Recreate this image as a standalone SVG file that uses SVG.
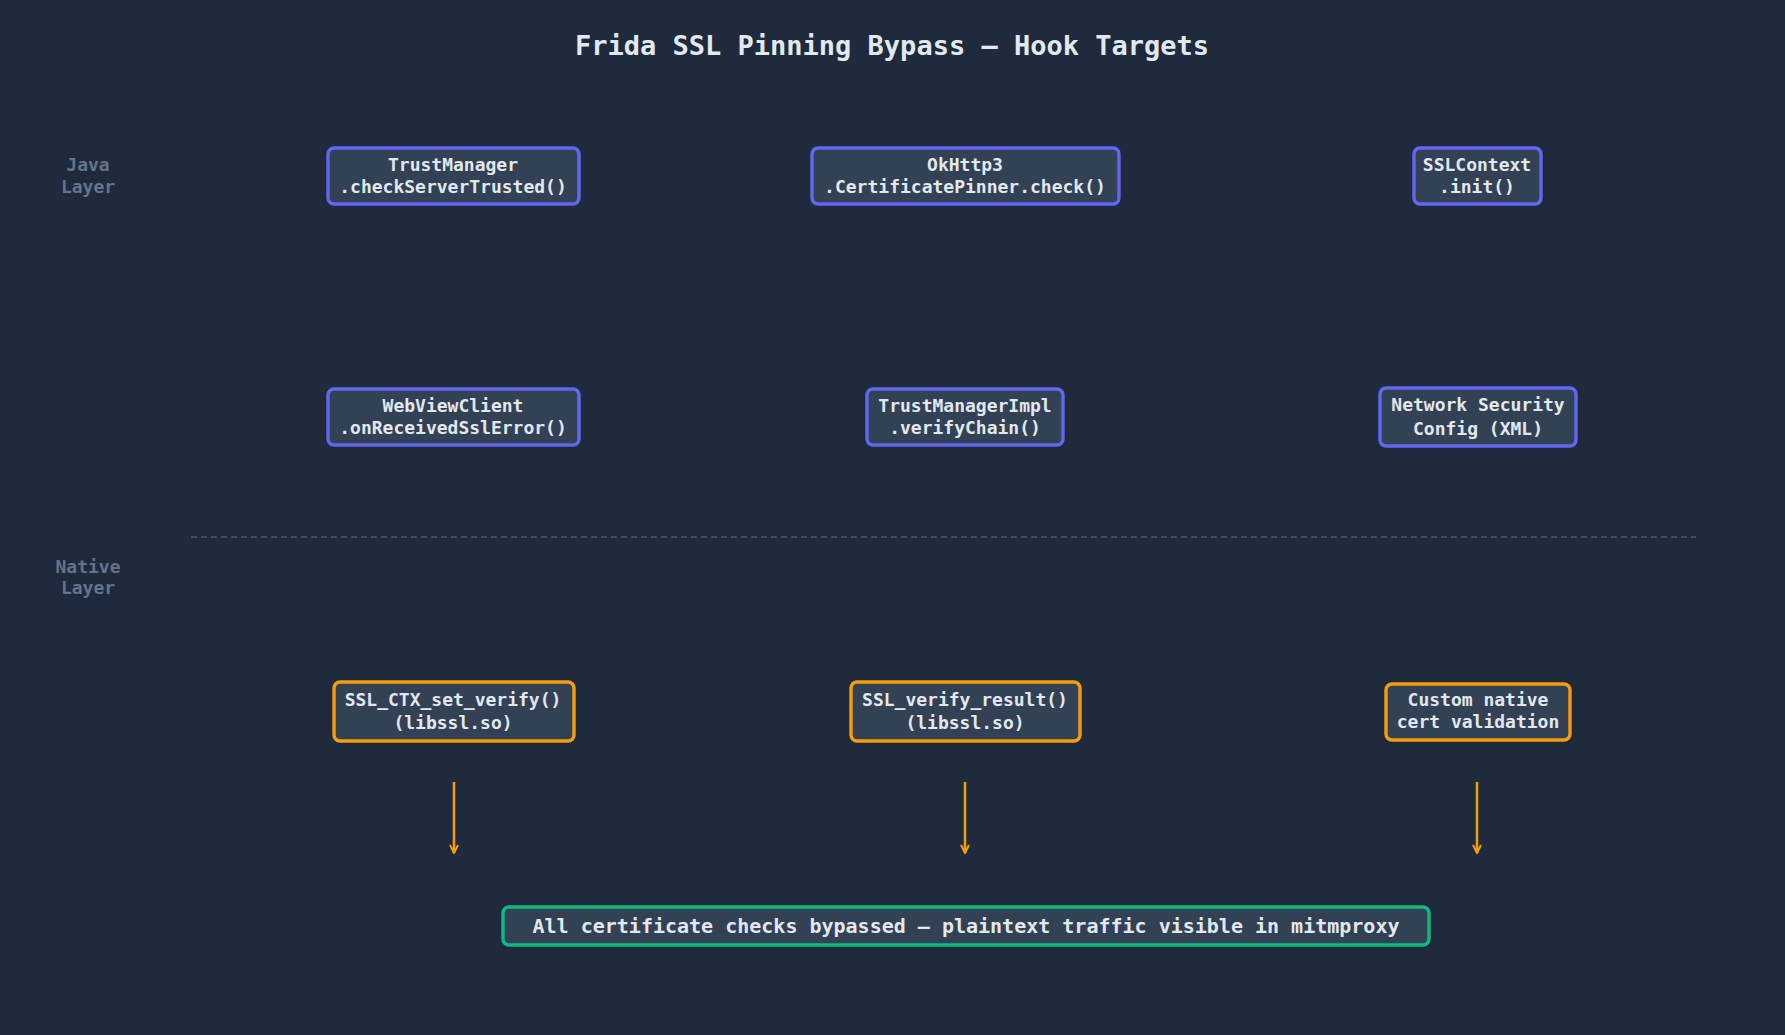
<svg xmlns="http://www.w3.org/2000/svg" width="1785" height="1035" viewBox="0 0 1785 1035">
<defs>
<style>
text{font-family:"DejaVu Sans Mono","Liberation Mono",monospace;font-weight:bold;text-anchor:middle;dominant-baseline:central}
.t{font-size:18px;fill:#e2e8f0}
.lab{font-size:18px;fill:#64748b}
.j{fill:#334155;stroke:#6366f1;stroke-width:3.4}
.n{fill:#334155;stroke:#f59e0b;stroke-width:3.4}
.g{fill:#334155;stroke:#10b981;stroke-width:3.4}
</style>
<marker id="ah" viewBox="0 0 10 10" refX="9" refY="5" markerWidth="10" markerHeight="10" markerUnits="userSpaceOnUse" orient="auto"><path d="M1,1 L9,5 L1,9" fill="none" stroke="#f59e0b" stroke-width="2"/></marker>
</defs>
<rect width="1785" height="1035" fill="#1f2a3c"/>
<text x="892" y="45" style="font-size:27px;fill:#e2e8f0">Frida SSL Pinning Bypass — Hook Targets</text>
<text class="lab" x="88" y="164">Java</text><text class="lab" x="88" y="186">Layer</text>
<text class="lab" x="88" y="566">Native</text><text class="lab" x="88" y="587">Layer</text>
<line x1="191" y1="537" x2="1696" y2="537" stroke="#4b5a70" stroke-width="1.5" stroke-dasharray="6,4"/>
<g id="n1"><rect class="j" x="328" y="148" width="251" height="56" rx="6"/><text class="t" x="453" y="164">TrustManager</text><text class="t" x="453" y="186">.checkServerTrusted()</text></g>
<g id="n2"><rect class="j" x="812" y="148" width="307" height="56" rx="6"/><text class="t" x="965" y="164">OkHttp3</text><text class="t" x="965" y="186">.CertificatePinner.check()</text></g>
<g id="n3"><rect class="j" x="1414" y="148" width="127" height="56" rx="6"/><text class="t" x="1477" y="164">SSLContext</text><text class="t" x="1477" y="186">.init()</text></g>
<g id="n4"><rect class="j" x="328" y="389" width="251" height="56" rx="6"/><text class="t" x="453" y="405">WebViewClient</text><text class="t" x="453" y="427">.onReceivedSslError()</text></g>
<g id="n5"><rect class="j" x="867" y="389" width="196" height="56" rx="6"/><text class="t" x="965" y="405">TrustManagerImpl</text><text class="t" x="965" y="427">.verifyChain()</text></g>
<g id="n6"><rect class="j" x="1380" y="388" width="196" height="58" rx="6"/><text class="t" x="1478" y="404">Network Security</text><text class="t" x="1478" y="428">Config (XML)</text></g>
<g id="n7"><rect class="n" x="334" y="682" width="240" height="59" rx="6"/><text class="t" x="453" y="699">SSL_CTX_set_verify()</text><text class="t" x="453" y="722">(libssl.so)</text></g>
<g id="n8"><rect class="n" x="851" y="682" width="229" height="59" rx="6"/><text class="t" x="965" y="699">SSL_verify_result()</text><text class="t" x="965" y="722">(libssl.so)</text></g>
<g id="n9"><rect class="n" x="1386" y="684" width="184" height="56" rx="6"/><text class="t" x="1478" y="699">Custom native</text><text class="t" x="1478" y="721">cert validation</text></g>
<g id="n10"><rect class="g" x="503" y="907" width="926" height="38" rx="6"/><text class="t" x="966" y="926" style="font-size:20px">All certificate checks bypassed — plaintext traffic visible in mitmproxy</text></g>
<g id="connectors" stroke="#f59e0b" stroke-width="2.5" marker-end="url(#ah)">
<line x1="454" y1="782" x2="454" y2="853"/>
<line x1="965" y1="782" x2="965" y2="853"/>
<line x1="1477" y1="782" x2="1477" y2="853"/>
</g>
</svg>
